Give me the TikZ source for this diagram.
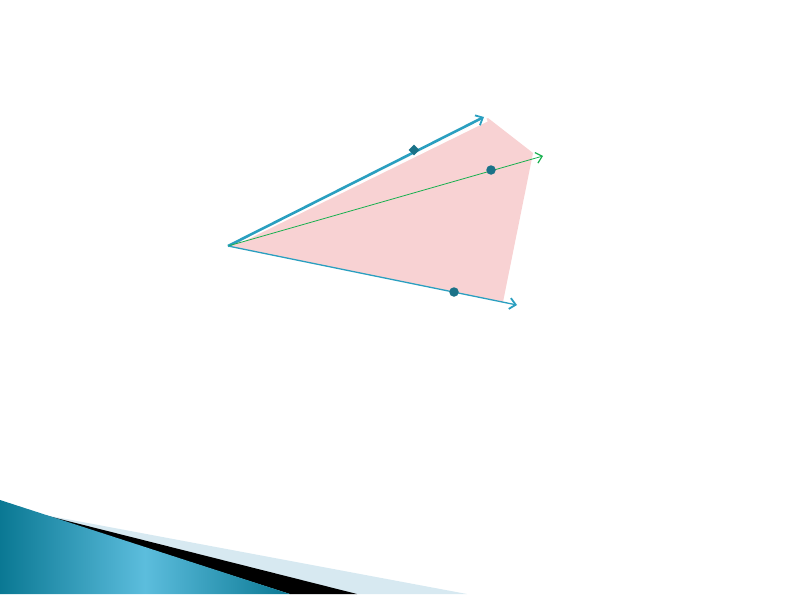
\documentclass[tikz,border=0pt]{standalone}
\usetikzlibrary{arrows.meta,shapes.geometric}
\definecolor{ray}{HTML}{2A9FC0}
\definecolor{dotc}{HTML}{1B7288}
\definecolor{pinkf}{HTML}{F8D2D3}
\definecolor{grn}{HTML}{18B04F}
\definecolor{lightb}{HTML}{D7E9F1}
\definecolor{tealdark}{HTML}{0A7893}
\definecolor{teallight}{HTML}{5CBDDD}
\tikzset{
  barb/.tip={Straight Barb[length=6pt,width=11pt,line width=1.8pt]},
  gbarb/.tip={Straight Barb[length=6pt,width=11pt,line width=1.2pt]},
  dotmark/.style={circle, fill=dotc, inner sep=0pt, minimum size=9.5pt},
  diamark/.style={diamond, fill=dotc, inner sep=0pt, minimum size=11pt},
}
\begin{document}
\begin{tikzpicture}[x=1pt,y=-1pt]
\useasboundingbox (0,0) rectangle (792,594);
% bottom decoration
\fill[lightb] (45,515) -- (467,594) -- (290,594) -- cycle;
\fill[black] (40,514) -- (357,594) -- (290,594) -- cycle;
\shade[left color=tealdark, right color=tealdark, middle color=teallight, shading angle=90]
  (0,500) -- (290,594) -- (0,594) -- cycle;
\fill[pinkf] (228,246) -- (488,118) -- (533,153) -- (503,302) -- cycle;
\coordinate (O) at (228,246);
\coordinate (A) at (484,117);
\coordinate (B) at (543,156);
\coordinate (C) at (517,305);
\draw[white, line width=3pt] (241,241) -- (487,120);
\draw[draw=ray, line width=2.6pt, barb-] (A) -- (O);
\draw[draw=grn, line width=0.8pt, -gbarb] (O) -- (B);
\draw[draw=ray, line width=1.3pt, -barb] (O) -- (C);
\node[diamark] (d1) at (414,150) {};
\node[dotmark] (p1) at (491,170) {};
\node[dotmark] (p2) at (454,292) {};
\end{tikzpicture}
\end{document}
